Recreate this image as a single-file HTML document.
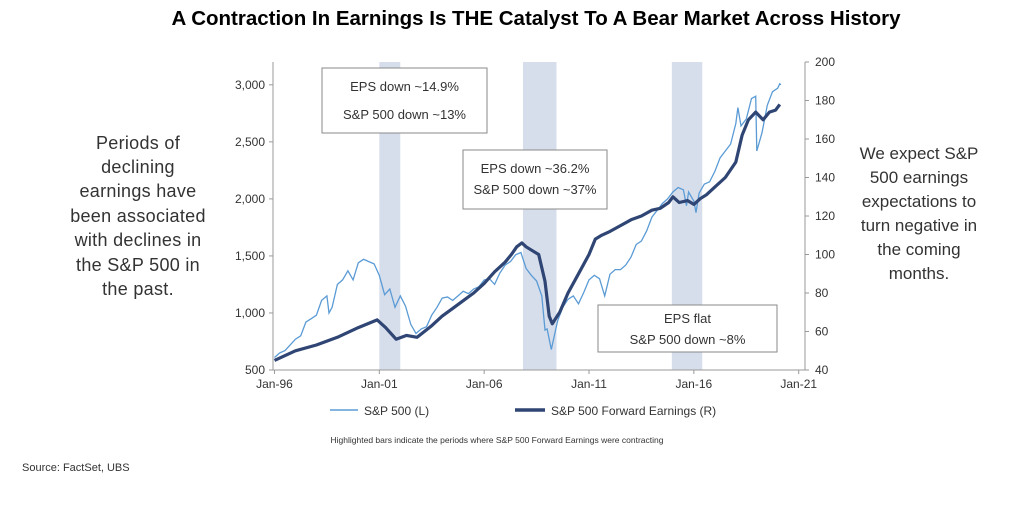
<!DOCTYPE html>
<html><head><meta charset="utf-8"><style>
body{margin:0;background:#fff;font-family:"Liberation Sans",sans-serif;}
svg text{font-family:"Liberation Sans",sans-serif;}
</style></head><body>
<svg id="c" width="1022" height="511" viewBox="0 0 1022 511">
<text x="536" y="25" text-anchor="middle" font-size="20.5" font-weight="bold" fill="#000">A Contraction In Earnings Is THE Catalyst To A Bear Market Across History</text>
<g font-size="18" fill="#333" text-anchor="middle" letter-spacing="0.3">
<text x="138" y="149">Periods of</text><text x="138" y="173">declining</text><text x="138" y="197">earnings have</text><text x="138" y="222">been associated</text><text x="138" y="246">with declines in</text><text x="138" y="271">the S&amp;P 500 in</text><text x="138" y="295">the past.</text></g>
<g font-size="17" fill="#333" text-anchor="middle">
<text x="919" y="159">We expect S&amp;P</text><text x="919" y="183">500 earnings</text><text x="919" y="207">expectations to</text><text x="919" y="231">turn negative in</text><text x="919" y="255">the coming</text><text x="919" y="279">months.</text></g>
<g id="shades"></g><g id="axes"></g><g id="lines"></g><g id="boxes"></g>
<g>
<line x1="330" y1="410" x2="358" y2="410" stroke="#5b9bd5" stroke-width="1.5"/>
<text x="364" y="415" font-size="12" fill="#333">S&amp;P 500 (L)</text>
<line x1="515" y1="410" x2="545" y2="410" stroke="#2f4574" stroke-width="3.5"/>
<text x="551" y="415" font-size="12" fill="#333">S&amp;P 500 Forward Earnings (R)</text></g>
<text x="497" y="443" text-anchor="middle" font-size="8.5" fill="#333">Highlighted bars indicate the periods where S&amp;P 500 Forward Earnings were contracting</text>
<text x="22" y="471" font-size="11" fill="#333">Source:  FactSet, UBS</text>
</svg>
<script>
const xTicks=["Jan-96","Jan-01","Jan-06","Jan-11","Jan-16","Jan-21"];
const xTickYears=[1996,2001,2006,2011,2016,2021];
const leftTicks=[500,1000,1500,2000,2500,3000];
const rightTicks=[40,60,80,100,120,140,160,180,200];
const shadeStart=[2001.0,2007.85,2014.95];
const shadeEnd=[2002.0,2009.45,2016.4];
const spYears=[1996,1996.25,1996.5,1996.75,1997,1997.25,1997.5,1997.75,1998,1998.25,1998.5,1998.6,1998.75,1999,1999.25,1999.5,1999.75,2000,2000.25,2000.5,2000.75,2001,2001.25,2001.5,2001.75,2002,2002.25,2002.5,2002.75,2003,2003.25,2003.5,2003.75,2004,2004.25,2004.5,2004.75,2005,2005.25,2005.5,2005.75,2006,2006.25,2006.5,2006.75,2007,2007.25,2007.5,2007.75,2008,2008.25,2008.5,2008.75,2008.9,2009,2009.2,2009.5,2009.75,2010,2010.25,2010.5,2010.75,2011,2011.25,2011.5,2011.75,2012,2012.25,2012.5,2012.75,2013,2013.25,2013.5,2013.75,2014,2014.25,2014.5,2014.75,2015,2015.25,2015.5,2015.65,2015.75,2016,2016.1,2016.25,2016.5,2016.75,2017,2017.25,2017.5,2017.75,2018,2018.1,2018.25,2018.5,2018.75,2018.95,2019,2019.25,2019.5,2019.75,2020,2020.1,2020.15];
const spValues=[610,650,670,720,770,800,920,950,980,1110,1150,1000,1050,1250,1290,1370,1290,1440,1470,1450,1430,1330,1160,1210,1050,1150,1060,900,820,860,880,980,1050,1130,1140,1110,1150,1190,1170,1210,1230,1290,1300,1250,1350,1420,1450,1510,1530,1390,1330,1280,1150,850,860,680,930,1050,1120,1150,1080,1180,1290,1330,1300,1150,1340,1380,1380,1420,1490,1600,1630,1720,1840,1900,1960,2000,2060,2100,2080,1940,2060,1980,1880,2050,2130,2150,2240,2360,2420,2480,2660,2800,2640,2700,2880,2900,2420,2580,2820,2940,2970,3010,3000,2960];
const epsYears=[1996,1997,1998,1999,2000,2000.9,2001.3,2001.8,2002.3,2002.8,2003.5,2004,2004.5,2005,2005.5,2006,2006.5,2007,2007.3,2007.55,2007.8,2008,2008.3,2008.6,2008.9,2009.1,2009.25,2009.6,2010,2010.5,2011,2011.3,2011.6,2012,2012.5,2013,2013.5,2014,2014.4,2014.8,2015,2015.3,2015.7,2016,2016.3,2016.6,2017,2017.5,2018,2018.3,2018.6,2018.95,2019.3,2019.6,2019.9,2020.1];
const epsValues=[45,50,53,57,62,66,62,56,58,57,63,68,72,76,80,85,91,96,100,104,106,104,102,100,86,68,64,70,80,90,100,108,110,112,115,118,120,123,124,127,130,127,128,126,129,131,135,140,148,162,170,174,170,174,175,178];
const svg=document.getElementById('c'),NS="http://www.w3.org/2000/svg";
const L=273,R=805,T=62,B=370;
const xS=y=>L+(y-1995.93)*(R-L)/(2021.3-1995.93);
const yL=v=>B-(v-500)*(B-T)/(3200-500);
const yR=v=>B-(v-40)*(B-T)/(200-40);
function mk(t,a,p){const e=document.createElementNS(NS,t);for(const k in a)e.setAttribute(k,a[k]);p.appendChild(e);return e;}
const sh=document.getElementById('shades');
shadeStart.forEach((s,i)=>{const r=mk('rect',{x:xS(s),y:T,width:xS(shadeEnd[i])-xS(s),height:B-T,fill:'#d6deec'},sh);

});
const ax=document.getElementById('axes');
const a1=mk('path',{d:`M${L},${T}V${B}H${R}V${T}`,fill:'none',stroke:'#999','stroke-width':1},ax);


xTicks.forEach((t,i)=>{const x=xS(xTickYears[i]);mk('line',{x1:x,x2:x,y1:B,y2:B+4,stroke:'#999'},ax);
const tx=mk('text',{x:x,y:B+18,'text-anchor':'middle','font-size':12,fill:'#333'},ax);tx.textContent=t;

});
leftTicks.forEach(v=>{const y=yL(v);mk('line',{x1:L-4,x2:L,y1:y,y2:y,stroke:'#999'},ax);
const tx=mk('text',{x:L-8,y:y+4,'text-anchor':'end','font-size':12,fill:'#333'},ax);tx.textContent=v.toLocaleString('en-US');

});
rightTicks.forEach(v=>{const y=yR(v);mk('line',{x1:R,x2:R+4,y1:y,y2:y,stroke:'#999'},ax);
const tx=mk('text',{x:R+10,y:y+4,'font-size':12,fill:'#333'},ax);tx.textContent=v;

});
const ln=document.getElementById('lines');
const p1=mk('path',{d:spYears.map((y,i)=>(i?'L':'M')+xS(y).toFixed(1)+','+yL(spValues[i]).toFixed(1)).join(''),fill:'none',stroke:'#5b9bd5','stroke-width':1.3},ln);


const p2=mk('path',{d:epsYears.map((y,i)=>(i?'L':'M')+xS(y).toFixed(1)+','+yR(epsValues[i]).toFixed(1)).join(''),fill:'none',stroke:'#2f4574','stroke-width':3.2,'stroke-linejoin':'round'},ln);


const bx=document.getElementById('boxes');
[[322,68,165,65,["EPS down ~14.9%","S&P 500 down ~13%"],91,119],[463,150,144,59,["EPS down ~36.2%","S&P 500 down ~37%"],173,194],[598,305,179,47,["EPS flat","S&P 500 down ~8%"],323,344]].forEach(b=>{
const r=mk('rect',{x:b[0],y:b[1],width:b[2],height:b[3],fill:'#fff',stroke:'#888'},bx);


[b[5],b[6]].forEach((yy,j)=>{const t=mk('text',{x:b[0]+b[2]/2,y:yy,'text-anchor':'middle','font-size':13,fill:'#333'},bx);t.textContent=b[4][j];

});});
</script>
</body></html>
